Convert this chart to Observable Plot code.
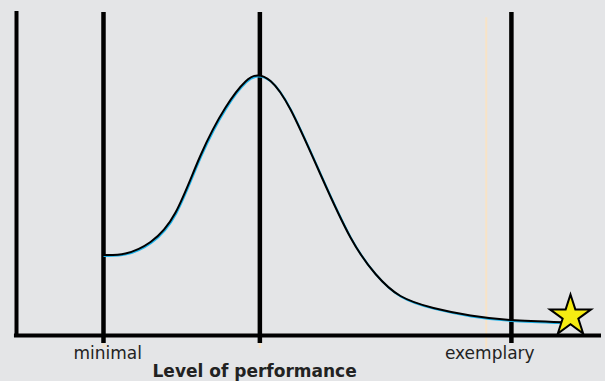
<!DOCTYPE html>
<html>
<head>
<meta charset="utf-8">
<script src="https://cdn.jsdelivr.net/npm/d3@7"></script>
<script src="https://cdn.jsdelivr.net/npm/@observablehq/plot@0.6"></script>
<style>
  html, body { margin: 0; padding: 0; background: #e4e5e7; }
</style>
</head>
<body>
<div id="chart"></div>
<script>
// Performance level (0–100 arbitrary units) and relative frequency (0–100)
const curveX = [14.87, 18.63, 22.91, 27.18, 31.45, 35.73, 39.15, 41.20, 43.42, 46.84, 51.97, 57.09, 61.37, 65.64, 71.28, 77.61, 84.44, 93.33];
const curveY = [24.85, 25.31, 28.86, 37.96, 55.56, 70.37, 78.40, 80.25, 78.58, 69.75, 49.69, 30.25, 18.98, 12.19, 8.49, 6.17, 4.78, 4.11];

const guideX = [14.87, 41.6, 84.6];        // black guide lines
const faintX = [14.87, 41.6, 80.3];        // faint peach lines
const levelLabels = ["minimal", "exemplary"];
const levelLabelX = [15.6, 80.9];
const axisTitle = "Level of performance";
const axisTitleX = 40.7;
const starX = [94.7];
const starY = [6.0];

const curve = curveX.map((x, i) => ({x, y: curveY[i]}));
const labels = levelLabels.map((t, i) => ({t, x: levelLabelX[i]}));

const chart = Plot.plot({
  width: 605,
  height: 381,
  marginLeft: 16,
  marginRight: 4,
  marginTop: 11,
  marginBottom: 46,
  x: {domain: [0, 100], axis: null},
  y: {domain: [0, 100], axis: null},
  style: {background: "#e4e5e7", fontFamily: "DejaVu Sans"},
  marks: [
    Plot.ruleX(faintX, {x: d => d, y1: 98.1, y2: -4, stroke: "#f8e3c6", strokeWidth: 2}),
    Plot.ruleX(guideX, {x: d => d, y1: 99.7, y2: -2.5, stroke: "#000", strokeWidth: 4.5}),
    Plot.ruleX([0], {y1: 100, y2: -0.6, stroke: "#000", strokeWidth: 4}),
    Plot.ruleY([0], {x1: -0.35, x2: 100, stroke: "#000", strokeWidth: 4}),
    Plot.line(curve, {x: "x", y: "y", curve: "natural", stroke: "#1fb3ea", strokeWidth: 2, dx: 0.8, dy: 0.9}),
    Plot.line(curve, {x: "x", y: "y", curve: "natural", stroke: "#000", strokeWidth: 2}),
    Plot.dot(starX.map((x, i) => ({x, y: starY[i]})), {x: "x", y: "y", symbol: "star", r: 12.9, fill: "#f6ec12", stroke: "#000", strokeWidth: 2}),
    Plot.text(labels, {x: "x", y: -5.7, text: "t", fontSize: 17, fill: "#222", textAnchor: "middle"}),
    Plot.text([axisTitle], {x: axisTitleX, y: -11.2, text: d => d, fontSize: 17, fontWeight: "bold", fill: "#222", textAnchor: "middle"})
  ]
});
document.getElementById("chart").appendChild(chart);
</script>
</body>
</html>
